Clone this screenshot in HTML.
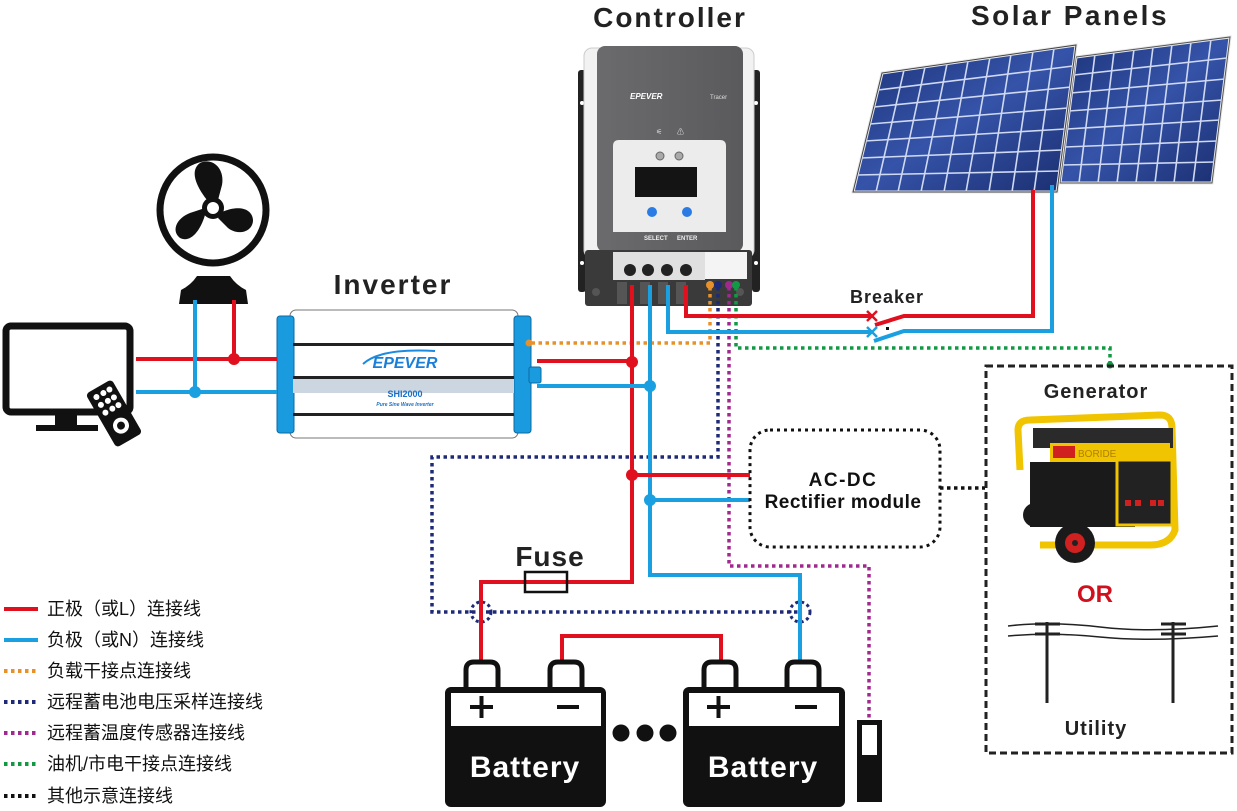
<!DOCTYPE html>
<html><head><meta charset="utf-8"><style>
html,body{margin:0;padding:0;background:#fff;}
svg{display:block;}
text{font-family:"Liberation Sans","Noto Sans CJK SC",sans-serif;}
</style></head><body>
<svg width="1237" height="811" viewBox="0 0 1237 811" xmlns="http://www.w3.org/2000/svg">
<defs>
<linearGradient id="pg" x1="0" y1="0" x2="1" y2="1"><stop offset="0" stop-color="#1c3277"/><stop offset="0.5" stop-color="#3553a8"/><stop offset="1" stop-color="#1a2d6e"/></linearGradient>
<linearGradient id="cg" x1="0" y1="0" x2="1" y2="0"><stop offset="0" stop-color="#6b6b6d"/><stop offset="1" stop-color="#5a5a5c"/></linearGradient>
</defs>

<text x="670" y="27" font-size="28" font-weight="bold" text-anchor="middle" fill="#222" letter-spacing="2">Controller</text>
<text x="1070" y="25" font-size="28" font-weight="bold" text-anchor="middle" fill="#222" letter-spacing="2.5">Solar Panels</text>
<text x="393" y="294" font-size="28" font-weight="bold" text-anchor="middle" fill="#222" letter-spacing="2">Inverter</text>
<text x="850" y="303" font-size="18" font-weight="bold" fill="#222" letter-spacing="1">Breaker</text>
<text x="550" y="566" font-size="28" font-weight="bold" text-anchor="middle" fill="#222" letter-spacing="1">Fuse</text>

<g stroke-linecap="round">
<polygon points="1076,57 1230,37 1212,183 1060,183" fill="url(#pg)" stroke="#e8e8e8" stroke-width="3"/>
<g stroke="#cfd9f2" stroke-width="1.6">
<line x1="1095" y1="54" x2="1079" y2="183"/><line x1="1114" y1="52" x2="1098" y2="183"/><line x1="1134" y1="49" x2="1117" y2="183"/><line x1="1153" y1="47" x2="1136" y2="183"/><line x1="1172" y1="44" x2="1155" y2="183"/><line x1="1191" y1="42" x2="1174" y2="183"/><line x1="1211" y1="39" x2="1193" y2="183"/>
<line x1="1074" y1="75" x2="1227" y2="58"/><line x1="1071" y1="93" x2="1225" y2="79"/><line x1="1069" y1="111" x2="1222" y2="100"/><line x1="1067" y1="129" x2="1220" y2="120"/><line x1="1065" y1="147" x2="1217" y2="141"/><line x1="1062" y1="165" x2="1215" y2="162"/>
</g>
<polygon points="1076,57 1230,37 1212,183 1060,183" fill="none" stroke="#555" stroke-width="1"/>
<polygon points="882,73 1076,45 1057,192 853,192" fill="url(#pg)" stroke="#e8e8e8" stroke-width="3"/>
<g stroke="#cfd9f2" stroke-width="1.6">
<line x1="904" y1="70" x2="876" y2="192"/><line x1="925" y1="67" x2="898" y2="192"/><line x1="947" y1="64" x2="921" y2="192"/><line x1="968" y1="61" x2="944" y2="192"/><line x1="990" y1="57" x2="966" y2="192"/><line x1="1011" y1="54" x2="989" y2="192"/><line x1="1033" y1="51" x2="1012" y2="192"/><line x1="1054" y1="48" x2="1034" y2="192"/>
<line x1="878" y1="90" x2="1073" y2="66"/><line x1="874" y1="107" x2="1071" y2="87"/><line x1="870" y1="124" x2="1068" y2="108"/><line x1="865" y1="141" x2="1065" y2="129"/><line x1="861" y1="158" x2="1062" y2="150"/><line x1="857" y1="175" x2="1060" y2="171"/>
</g>
<polygon points="882,73 1076,45 1057,192 853,192" fill="none" stroke="#444" stroke-width="1"/>
</g>

<rect x="578" y="70" width="8" height="222" rx="3" fill="#222"/>
<rect x="752" y="70" width="8" height="222" rx="3" fill="#222"/>
<circle cx="582" cy="103" r="2" fill="#fff"/><circle cx="756" cy="103" r="2" fill="#fff"/>
<circle cx="582" cy="263" r="2" fill="#fff"/><circle cx="756" cy="263" r="2" fill="#fff"/>
<rect x="584" y="48" width="170" height="210" rx="8" fill="#f2f2f2" stroke="#ccc"/>
<rect x="597" y="46" width="146" height="206" rx="8" fill="url(#cg)"/>
<text x="630" y="99" font-size="8" font-weight="bold" font-style="italic" fill="#fff">EPEVER</text>
<text x="710" y="99" font-size="6" fill="#ddd">Tracer</text>
<text x="656" y="134" font-size="7" fill="#ddd">⚟</text><text x="677" y="134" font-size="7" fill="#ddd">⚠</text>
<path d="M613,146 Q613,140 619,140 L720,140 Q726,140 726,146 L726,232 L613,232 Z" fill="#ececec"/>
<rect x="635" y="167" width="62" height="30" fill="#141414"/>
<circle cx="660" cy="156" r="4" fill="#aaa" stroke="#666"/><circle cx="679" cy="156" r="4" fill="#aaa" stroke="#666"/>
<circle cx="652" cy="212" r="5" fill="#2a7be4"/><circle cx="687" cy="212" r="5" fill="#2a7be4"/>
<text x="644" y="240" font-size="6" font-weight="bold" fill="#eee">SELECT</text>
<text x="677" y="240" font-size="6" font-weight="bold" fill="#eee">ENTER</text>
<rect x="585" y="250" width="167" height="56" rx="3" fill="#3a3a3a"/>
<rect x="613" y="252" width="92" height="28" fill="#e0e0e0"/>
<rect x="705" y="252" width="42" height="27" fill="#f4f4f4"/>
<g fill="#222"><circle cx="630" cy="270" r="6"/><circle cx="648" cy="270" r="6"/><circle cx="667" cy="270" r="6"/><circle cx="686" cy="270" r="6"/></g>
<g fill="#555"><rect x="617" y="282" width="10" height="22"/><rect x="640" y="282" width="10" height="22"/><rect x="658" y="282" width="10" height="22"/><rect x="676" y="282" width="10" height="22"/></g>
<circle cx="596" cy="292" r="4" fill="#555"/><circle cx="740" cy="292" r="4" fill="#555"/>

<rect x="290" y="310" width="228" height="128" rx="6" fill="#fff" stroke="#777"/>
<rect x="277" y="316" width="17" height="117" rx="3" fill="#1a9be0" stroke="#0b6aa0"/>
<rect x="514" y="316" width="17" height="117" rx="3" fill="#1a9be0" stroke="#0b6aa0"/>
<rect x="529" y="367" width="12" height="16" rx="2" fill="#1a9be0" stroke="#0b6aa0"/>
<rect x="293" y="343" width="221" height="3" fill="#222"/>
<rect x="293" y="376" width="221" height="3" fill="#222"/>
<rect x="293" y="379" width="221" height="14" fill="#cbd6e0"/>
<rect x="293" y="413" width="221" height="3" fill="#222"/>
<path d="M363,364 Q380,348 435,351" stroke="#1a8be0" stroke-width="2" fill="none"/>
<text x="405" y="368" font-size="16" font-weight="bold" font-style="italic" text-anchor="middle" fill="#1a7fd8">EPEVER</text>
<text x="405" y="397" font-size="9" font-weight="bold" font-family="Liberation Serif,serif" text-anchor="middle" fill="#1a6fc8">SHI2000</text>
<text x="405" y="406" font-size="5" font-weight="bold" font-style="italic" text-anchor="middle" fill="#1a6fc8">Pure Sine Wave Inverter</text>

<!-- Fan -->
<circle cx="213" cy="210" r="53" fill="#fff" stroke="#111" stroke-width="7"/>
<g fill="#111">
<path d="M207,200 C195,185 190,170 200,163 C212,157 225,168 222,185 L218,200 Z"/>
<path d="M222,212 C238,205 252,208 253,220 C253,232 238,236 228,228 L218,218 Z"/>
<path d="M205,215 C200,232 190,243 180,238 C170,230 178,216 193,212 L205,208 Z"/>
</g>
<circle cx="213" cy="208" r="11" fill="#111"/><circle cx="213" cy="208" r="6" fill="#fff"/>
<path d="M197,276 L230,276 Q236,285 246,290 L248,304 L179,304 L181,290 Q191,285 197,276 Z" fill="#111"/>

<rect x="6" y="326" width="124" height="86" rx="5" fill="#fff" stroke="#111" stroke-width="7"/>
<rect x="55" y="412" width="22" height="14" fill="#111"/>
<rect x="36" y="425" width="62" height="6" fill="#111"/>
<g transform="rotate(-30 112 410)">
<rect x="97" y="383" width="30" height="62" rx="4" fill="#111"/>
<g fill="#fff"><circle cx="105" cy="391" r="3"/><circle cx="113" cy="391" r="3"/><circle cx="120" cy="391" r="3"/><circle cx="105" cy="400" r="3"/><circle cx="113" cy="400" r="3"/><circle cx="120" cy="400" r="3"/><circle cx="105" cy="409" r="3"/><circle cx="113" cy="409" r="3"/><circle cx="120" cy="409" r="3"/><circle cx="112" cy="428" r="8"/></g>
<circle cx="112" cy="428" r="4" fill="#111"/>
</g>

<g fill="none" stroke-width="4">
<polyline points="136,359 277,359" stroke="#e0101e"/>
<polyline points="136,392 277,392" stroke="#1aa0e0"/>
<polyline points="234,300 234,359" stroke="#e0101e"/>
<polyline points="195,300 195,392" stroke="#1aa0e0"/>
</g>
<circle cx="234" cy="359" r="6" fill="#e0101e"/><circle cx="195" cy="392" r="6" fill="#1aa0e0"/>

<g fill="none" stroke-width="3.5" stroke-dasharray="3.5 3.5">
<polyline points="710,287 710,343 529,343" stroke="#e8912a"/>
<polyline points="718,287 718,457 432,457 432,612 800,612" stroke="#1e2a78"/>
<polyline points="729,287 729,566 869,566 869,720" stroke="#a0288e"/>
<polyline points="736,287 736,348 1110,348 1110,365" stroke="#119944"/>
<polyline points="940,488 985,488" stroke="#111"/>
</g>
<circle cx="710" cy="285" r="4" fill="#e8912a"/><circle cx="718" cy="285" r="4" fill="#1e2a78"/>
<circle cx="729" cy="285" r="4" fill="#a0288e"/><circle cx="736" cy="285" r="4" fill="#119944"/>
<circle cx="529" cy="343" r="3.5" fill="#e8912a"/>
<circle cx="1110" cy="365" r="3.5" fill="#119944"/>
<circle cx="481" cy="612" r="10" fill="none" stroke="#1e2a78" stroke-width="3" stroke-dasharray="3 3"/>
<circle cx="800" cy="612" r="10" fill="none" stroke="#1e2a78" stroke-width="3" stroke-dasharray="3 3"/>

<g fill="none" stroke-width="4">
<polyline points="632,285 632,582 481,582 481,662" stroke="#e0101e"/>
<polyline points="650,285 650,575 800,575 800,662" stroke="#1aa0e0"/>
<polyline points="668,285 668,332 872,332" stroke="#1aa0e0"/>
<polyline points="686,285 686,316 872,316" stroke="#e0101e"/>
<polyline points="537,361 632,361" stroke="#e0101e"/>
<polyline points="537,386 650,386" stroke="#1aa0e0"/>
<polyline points="632,475 750,475" stroke="#e0101e"/>
<polyline points="650,500 750,500" stroke="#1aa0e0"/>
<polyline points="875,325 904,316 1033,316 1033,190" stroke="#e0101e"/>
<polyline points="874,341 904,331 1052,331 1052,185" stroke="#1aa0e0"/>
<polyline points="562,662 562,636 721,636 721,662" stroke="#e0101e"/>
</g>
<g stroke-width="2.5">
<line x1="867" y1="311" x2="877" y2="321" stroke="#e0101e"/><line x1="877" y1="311" x2="867" y2="321" stroke="#e0101e"/>
<line x1="867" y1="327" x2="877" y2="337" stroke="#1aa0e0"/><line x1="877" y1="327" x2="867" y2="337" stroke="#1aa0e0"/>
</g>
<rect x="886" y="327" width="3" height="3" fill="#111"/>
<circle cx="632" cy="362" r="6" fill="#e0101e"/><circle cx="650" cy="386" r="6" fill="#1aa0e0"/>
<circle cx="632" cy="475" r="6" fill="#e0101e"/><circle cx="650" cy="500" r="6" fill="#1aa0e0"/>
<rect x="525" y="572" width="42" height="20" fill="none" stroke="#111" stroke-width="2.5"/>

<rect x="750" y="430" width="190" height="117" rx="20" fill="none" stroke="#111" stroke-width="3" stroke-dasharray="3 4"/>
<text x="843" y="486" font-size="19" font-weight="bold" text-anchor="middle" fill="#111" letter-spacing="1.5">AC-DC</text>
<text x="843" y="508" font-size="19" font-weight="bold" text-anchor="middle" fill="#111" letter-spacing="0.5">Rectifier module</text>

<g fill="#fff" stroke="#111" stroke-width="5">
<path d="M466,690 L466,670 Q466,662 474,662 L490,662 Q498,662 498,670 L498,690"/>
<path d="M550,690 L550,670 Q550,662 558,662 L574,662 Q582,662 582,670 L582,690"/>
<path d="M704,690 L704,670 Q704,662 712,662 L728,662 Q736,662 736,670 L736,690"/>
<path d="M787,690 L787,670 Q787,662 795,662 L811,662 Q819,662 819,670 L819,690"/>
</g>
<rect x="445" y="687" width="161" height="120" rx="6" fill="#111"/>
<rect x="683" y="687" width="162" height="120" rx="6" fill="#111"/>
<rect x="451" y="693" width="150" height="33" fill="#fff"/>
<rect x="689" y="693" width="150" height="33" fill="#fff"/>
<g fill="#111">
<rect x="470" y="705" width="23" height="4"/><rect x="479.5" y="696" width="4" height="22"/>
<rect x="557" y="705" width="22" height="4"/>
<rect x="707" y="705" width="23" height="4"/><rect x="716.5" y="696" width="4" height="22"/>
<rect x="795" y="705" width="22" height="4"/>
<circle cx="621" cy="733" r="8.5"/><circle cx="645" cy="733" r="8.5"/><circle cx="668" cy="733" r="8.5"/>
</g>
<text x="525" y="777" font-size="30" font-weight="bold" text-anchor="middle" fill="#fff" letter-spacing="1">Battery</text>
<text x="763" y="777" font-size="30" font-weight="bold" text-anchor="middle" fill="#fff" letter-spacing="1">Battery</text>
<rect x="857" y="720" width="25" height="82" fill="#111"/>
<rect x="862" y="725" width="15" height="30" fill="#fff"/>

<rect x="986" y="366" width="246" height="387" fill="none" stroke="#222" stroke-width="3" stroke-dasharray="7 4"/>
<text x="1096" y="398" font-size="20" font-weight="bold" text-anchor="middle" fill="#222" letter-spacing="1">Generator</text>
<path d="M1020,470 L1018,430 Q1018,420 1030,420 L1160,415 Q1172,415 1172,428 L1175,530 Q1170,545 1150,545 L1040,545" fill="none" stroke="#f0c400" stroke-width="7"/>
<rect x="1033" y="428" width="140" height="20" fill="#2a2a2a"/>
<rect x="1050" y="443" width="120" height="20" fill="#f0c400"/>
<rect x="1053" y="446" width="22" height="12" fill="#d02020"/>
<text x="1078" y="457" font-size="10" fill="#b08000">BORIDE</text>
<rect x="1030" y="462" width="105" height="65" fill="#1a1a1a"/>
<rect x="1117" y="460" width="55" height="65" fill="#222" stroke="#f0c400" stroke-width="3"/>
<g fill="#d02020"><rect x="1125" y="500" width="6" height="6"/><rect x="1135" y="500" width="6" height="6"/><rect x="1150" y="500" width="6" height="6"/><rect x="1158" y="500" width="6" height="6"/></g>
<circle cx="1035" cy="515" r="12" fill="#1a1a1a"/>
<circle cx="1075" cy="543" r="20" fill="#1a1a1a"/><circle cx="1075" cy="543" r="10" fill="#d02020"/><circle cx="1075" cy="543" r="3" fill="#222"/>
<text x="1095" y="602" font-size="24" font-weight="bold" text-anchor="middle" fill="#d0101c">OR</text>
<g stroke="#222" fill="none">
<path d="M1008,626 Q1050,621 1100,627 T1218,626" stroke-width="1.5"/>
<path d="M1008,636 Q1050,632 1100,637 T1218,636" stroke-width="1.5"/>
<line x1="1047" y1="622" x2="1047" y2="703" stroke-width="3"/>
<line x1="1173" y1="622" x2="1173" y2="703" stroke-width="3"/>
<line x1="1035" y1="624" x2="1060" y2="624" stroke-width="3"/>
<line x1="1035" y1="634" x2="1060" y2="634" stroke-width="3"/>
<line x1="1161" y1="624" x2="1186" y2="624" stroke-width="3"/>
<line x1="1161" y1="634" x2="1186" y2="634" stroke-width="3"/>
</g>
<text x="1096" y="735" font-size="20" font-weight="bold" text-anchor="middle" fill="#222" letter-spacing="1">Utility</text>

<g stroke-width="4" fill="none">
<line x1="4" y1="609" x2="38" y2="609" stroke="#e0101e"/>
<line x1="4" y1="640" x2="38" y2="640" stroke="#1aa0e0"/>
<line x1="4" y1="671" x2="38" y2="671" stroke="#e8912a" stroke-dasharray="3.5 3.5"/>
<line x1="4" y1="702" x2="38" y2="702" stroke="#1e2a78" stroke-dasharray="3.5 3.5"/>
<line x1="4" y1="733" x2="38" y2="733" stroke="#a0288e" stroke-dasharray="3.5 3.5"/>
<line x1="4" y1="764" x2="38" y2="764" stroke="#119944" stroke-dasharray="3.5 3.5"/>
<line x1="4" y1="796" x2="38" y2="796" stroke="#111" stroke-dasharray="3.5 3.5"/>
</g>
<g font-size="18" fill="#111">
<text x="47" y="615">正极（或L）连接线</text>
<text x="47" y="646">负极（或N）连接线</text>
<text x="47" y="677">负载干接点连接线</text>
<text x="47" y="708">远程蓄电池电压采样连接线</text>
<text x="47" y="739">远程蓄温度传感器连接线</text>
<text x="47" y="770">油机/市电干接点连接线</text>
<text x="47" y="802">其他示意连接线</text>
</g>
</svg>
</body></html>
